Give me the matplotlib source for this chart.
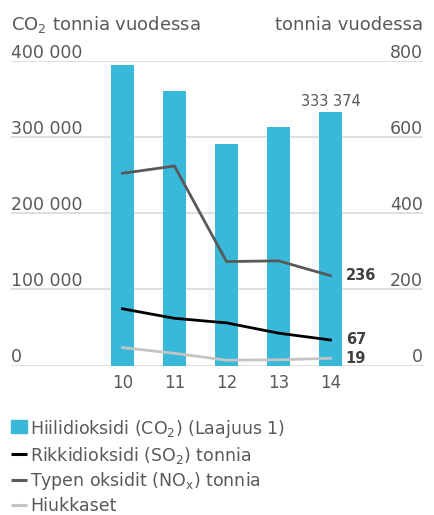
import numpy as np
import matplotlib
matplotlib.use("Agg")
import matplotlib.pyplot as plt
from matplotlib.lines import Line2D
from matplotlib.patches import Rectangle

FONT = "DejaVu Sans"
plt.rcParams["font.family"] = [FONT]
plt.rcParams["mathtext.fontset"] = "custom"
plt.rcParams["mathtext.rm"] = FONT
plt.rcParams["mathtext.it"] = FONT
plt.rcParams["mathtext.bf"] = FONT + ":bold"

# data
years = ["10", "11", "12", "13", "14"]
co2 = [395000, 360500, 291000, 313500, 333374]
so2 = [149, 124, 112, 85, 67]
nox = [505, 524, 273, 275, 236]
particles = [47, 32, 14, 15, 19]

left_ticks = [0, 100000, 200000, 300000, 400000]
left_labels = ["0", "100 000", "200 000", "300 000", "400 000"]
right_labels = ["0", "200", "400", "600", "800"]

TXT = "#595959"
BAR = "#38b9da"
GRID = "#d9d9d9"
C_SO2, C_NOX, C_PART = "black", "#595959", "#c4c4c4"

W, H = 434, 515
fig = plt.figure(figsize=(W / 100, H / 100), dpi=100)
x0, x1, ytop, ybot = 11, 423, 61, 365.5
ax = fig.add_axes([x0 / W, 1 - ybot / H, (x1 - x0) / W, (ybot - ytop) / H])

x = np.arange(len(years))
step = 52.0
ax.set_xlim((x0 - 122.5) / step, (x1 - 122.5) / step)
ax.set_ylim(0, 400000)
for t in left_ticks:
    ax.axhline(t, color=GRID, lw=1.2, zorder=0)
ax.bar(x, co2, width=23 / step, color=BAR, zorder=2)

ax2 = ax.twinx()
ax2.set_ylim(0, 800)
ax2.plot(x, nox, color=C_NOX, lw=2.0, zorder=3)
ax2.plot(x, so2, color=C_SO2, lw=2.0, zorder=3)
ax2.plot(x, particles, color=C_PART, lw=2.0, zorder=3)

for a in (ax, ax2):
    a.set_yticks([])
    for s in a.spines.values():
        s.set_visible(False)
ax.set_xticks(x)
ax.set_xticklabels(years, fontsize=12, color=TXT)
ax.tick_params(axis="x", length=0, pad=6)

# axis labels drawn inside the plot area, above the gridlines
for t, lab, rl in zip(left_ticks, left_labels, right_labels):
    yf = 1 - (ybot - (ybot - ytop) * t / 400000 - 3) / H
    fig.text(x0 / W, yf, lab, fontsize=12.5, color=TXT, ha="left", va="baseline")
    fig.text(x1 / W, yf, rl, fontsize=12.5, color=TXT, ha="right", va="baseline")

fig.text(x0 / W, 1 - 30 / H, r"CO$_2$ tonnia vuodessa", fontsize=13, color=TXT,
         ha="left", va="baseline")
fig.text(x1 / W, 1 - 30 / H, "tonnia vuodessa", fontsize=13, color=TXT,
         ha="right", va="baseline")

# value labels
ax.annotate(f"{co2[-1]:,}".replace(",", " "), (x[-1], co2[-1]), xytext=(0, 7.5),
            textcoords="offset points", ha="center", va="center", fontsize=10.5, color=TXT)
for vals in (nox, so2, particles):
    ax2.annotate(str(vals[-1]), (x[-1], vals[-1]), xytext=(11, 0),
                 textcoords="offset points", ha="left", va="center",
                 fontsize=10.5, fontweight="bold", color="#404040")

# legend, laid out by hand (pixel rows)
labels = [
    r"Hiilidioksidi (CO$_2$) (Laajuus 1)",
    r"Rikkidioksidi (SO$_2$) tonnia",
    r"Typen oksidit (NO$_x$) tonnia",
    "Hiukkaset",
]
baselines = [434.5, 460.5, 486.5, 511]
handle_y = [426.5, 453.5, 479.5, 505]
for i, (lab, yb, yh) in enumerate(zip(labels, baselines, handle_y)):
    if i == 0:
        fig.add_artist(Rectangle((11 / W, 1 - 433 / H), 15.5 / W, 13 / H,
                                 transform=fig.transFigure, color=BAR))
    else:
        c = [C_SO2, C_NOX, C_PART][i - 1]
        fig.add_artist(Line2D([11 / W, 27 / W], [1 - yh / H] * 2,
                              transform=fig.transFigure, color=c, lw=2.2,
                              solid_capstyle="butt"))
    fig.text(30.5 / W, 1 - yb / H, lab, fontsize=12.5, color=TXT, ha="left", va="baseline")

fig.savefig("out.png", dpi=100)
